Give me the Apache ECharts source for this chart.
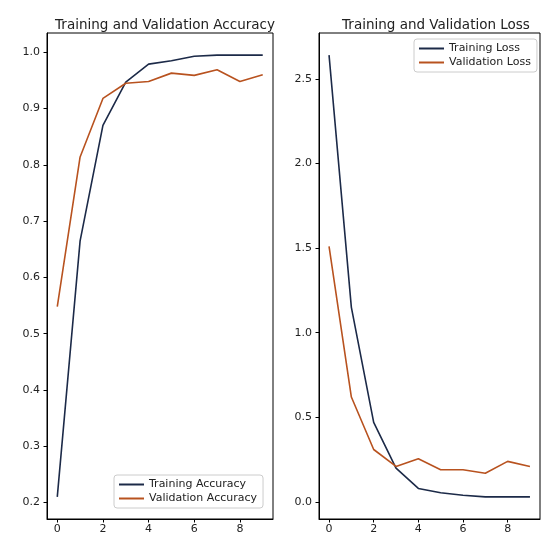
<!DOCTYPE html>
<html>
<head>
<meta charset="utf-8">
<script src="https://cdn.jsdelivr.net/npm/echarts@6/dist/echarts.min.js"></script>
<style>html,body{margin:0;padding:0;background:#fff}#c{width:541px;height:535px}</style>
</head>
<body>
<div id="c"></div>
<script>
const epochs = [0, 1, 2, 3, 4, 5, 6, 7, 8, 9];
const trainAcc = [0.21, 0.665, 0.87, 0.947, 0.979, 0.985, 0.993, 0.995, 0.995, 0.995];
const valAcc = [0.548, 0.814, 0.918, 0.945, 0.948, 0.963, 0.959, 0.969, 0.948, 0.960];
const trainLoss = [2.64, 1.15, 0.47, 0.20, 0.08, 0.055, 0.04, 0.03, 0.03, 0.03];
const valLoss = [1.51, 0.62, 0.31, 0.21, 0.255, 0.19, 0.19, 0.17, 0.24, 0.21];
const xTicks = [0, 2, 4, 6, 8];
const accTicks = [0.2, 0.3, 0.4, 0.5, 0.6, 0.7, 0.8, 0.9, 1.0];
const lossTicks = [0.0, 0.5, 1.0, 1.5, 2.0, 2.5];

const trainColor = '#1c2a48';
const valColor = '#b8521f';
const txt = '#222';
const font = 'DejaVu Sans';

function pairs(ys) { return epochs.map((e, i) => [e, ys[i]]); }

function xAxis(gi) {
  return {
    type: 'value', gridIndex: gi, min: -0.45, max: 9.45,
    axisLine: { show: true, onZero: false, lineStyle: { color: '#000', width: 1 } },
    axisTick: { show: true, length: 3.5, customValues: xTicks, lineStyle: { color: '#000' } },
    axisLabel: { customValues: xTicks, color: txt, fontFamily: font, fontSize: 11, margin: 5,
                 formatter: v => String(v) },
    splitLine: { show: false }
  };
}
function yAxis(gi, mn, mx, ticks) {
  return {
    type: 'value', gridIndex: gi, min: mn, max: mx,
    axisLine: { show: true, onZero: false, lineStyle: { color: '#000', width: 1 } },
    axisTick: { show: true, length: 3.5, customValues: ticks, lineStyle: { color: '#000' } },
    axisLabel: { customValues: ticks, color: txt, fontFamily: font, fontSize: 11, margin: 7,
                 formatter: v => v.toFixed(1) },
    splitLine: { show: false }
  };
}
function legend(names, left, top) {
  return {
    data: names, left: left, top: top, orient: 'vertical',
    icon: 'rect', itemWidth: 25, itemHeight: 2, itemGap: 3,
    backgroundColor: '#fff', borderColor: '#ccc', borderWidth: 1, borderRadius: 3,
    padding: [4, 6, 4, 5],
    textStyle: { color: txt, fontFamily: font, fontSize: 11 }
  };
}
function line(name, xi, ys, color) {
  return {
    name: name, type: 'line', xAxisIndex: xi, yAxisIndex: xi, data: pairs(ys),
    showSymbol: false, symbol: 'none', animation: false,
    lineStyle: { color: color, width: 1.6 }, itemStyle: { color: color }
  };
}

const chart = echarts.init(document.getElementById('c'), null, { renderer: 'canvas' });
chart.setOption({
  animation: false,
  backgroundColor: '#fff',
  title: [
    { text: 'Training and Validation Accuracy', left: 160, textAlign: 'center', top: 13,
      textStyle: { fontFamily: font, fontSize: 13.5, fontWeight: 'normal', color: txt } },
    { text: 'Training and Validation Loss', left: 431, textAlign: 'center', top: 13,
      textStyle: { fontFamily: font, fontSize: 13.5, fontWeight: 'normal', color: txt } }
  ],
  grid: [
    { left: 47, right: 268, top: 33, bottom: 15, show: true, borderColor: '#000', borderWidth: 1, backgroundColor: 'transparent' },
    { left: 319, right: 1, top: 33, bottom: 15, show: true, borderColor: '#000', borderWidth: 1, backgroundColor: 'transparent' }
  ],
  xAxis: [xAxis(0), xAxis(1)],
  yAxis: [yAxis(0, 0.1707, 1.0343, accTicks), yAxis(1, -0.1005, 2.7705, lossTicks)],
  legend: [
    legend(['Training Accuracy', 'Validation Accuracy'], 114, 475),
    legend(['Training Loss', 'Validation Loss'], 414, 39)
  ],
  series: [
    line('Training Accuracy', 0, trainAcc, trainColor),
    line('Validation Accuracy', 0, valAcc, valColor),
    line('Training Loss', 1, trainLoss, trainColor),
    line('Validation Loss', 1, valLoss, valColor)
  ]
});
</script>
</body>
</html>
